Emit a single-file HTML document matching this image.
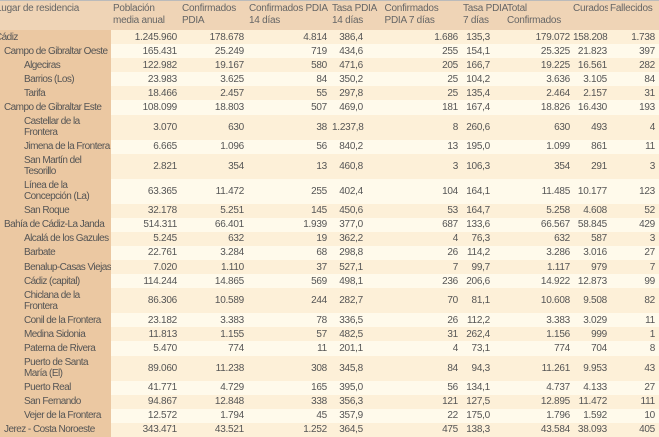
<!DOCTYPE html>
<html><head><meta charset="utf-8"><style>
body{margin:0;width:659px;height:428px;overflow:hidden;background:#fff;}
table{border-collapse:collapse;table-layout:fixed;width:659px;font-family:"Liberation Sans",sans-serif;font-size:10px;letter-spacing:-0.25px;color:#555;}
th{background:#efd4b6;font-weight:normal;text-align:left;vertical-align:top;padding:2px 0 0 2px;height:27px;line-height:12px;color:#666;border-top:1px solid #bbb;white-space:nowrap;overflow:hidden;}
th:nth-child(7){overflow:visible;position:relative;z-index:1}
td{padding:0 3px 0 2px;text-align:right;line-height:11px;height:14.1px;white-space:nowrap;overflow:hidden;}
tr.d td{height:25px;}
td:first-child{text-align:left;padding:0 1px;letter-spacing:-0.55px;}
td:nth-child(5){padding-right:17px}
td:nth-child(7){padding-right:15px}
td:nth-child(8){padding-right:1px}
td:nth-child(9){padding-right:1px}
td:nth-child(10){padding-right:4px}
tr:nth-child(odd) td{background:#fdf0d8;}
tr:nth-child(even) td{background:#fffaeb;}
tr td:first-child{background:#ebc8a2 !important;}
.l0{margin-left:-6px}.l1{margin-left:3px}.l2{margin-left:23px}
</style></head><body>
<table>
<colgroup><col style="width:111px"><col style="width:69px"><col style="width:67px"><col style="width:83px"><col style="width:50px"><col style="width:81px"><col style="width:44px"><col style="width:66px"><col style="width:37px"><col style="width:51px"></colgroup>
<thead><tr><th><span class="l0">Lugar de residencia</span></th><th>Población<br>media anual</th><th>Confirmados<br>PDIA</th><th>Confirmados PDIA<br>14 días</th><th>Tasa PDIA<br>14 días</th><th>&nbsp;Confirmados<br>&nbsp;PDIA 7 días</th><th>Tasa PDIA<br>7 días</th><th>Total<br>Confirmados</th><th>Curados</th><th>Fallecidos</th></tr></thead>
<tbody>
<tr><td><div class="l0">Cádiz</div></td><td>1.245.960</td><td>178.678</td><td>4.814</td><td>386,4</td><td>1.686</td><td>135,3</td><td>179.072</td><td>158.208</td><td>1.738</td></tr>
<tr><td><div class="l1">Campo de Gibraltar Oeste</div></td><td>165.431</td><td>25.249</td><td>719</td><td>434,6</td><td>255</td><td>154,1</td><td>25.325</td><td>21.823</td><td>397</td></tr>
<tr><td><div class="l2">Algeciras</div></td><td>122.982</td><td>19.167</td><td>580</td><td>471,6</td><td>205</td><td>166,7</td><td>19.225</td><td>16.561</td><td>282</td></tr>
<tr><td><div class="l2">Barrios (Los)</div></td><td>23.983</td><td>3.625</td><td>84</td><td>350,2</td><td>25</td><td>104,2</td><td>3.636</td><td>3.105</td><td>84</td></tr>
<tr><td><div class="l2">Tarifa</div></td><td>18.466</td><td>2.457</td><td>55</td><td>297,8</td><td>25</td><td>135,4</td><td>2.464</td><td>2.157</td><td>31</td></tr>
<tr><td><div class="l1">Campo de Gibraltar Este</div></td><td>108.099</td><td>18.803</td><td>507</td><td>469,0</td><td>181</td><td>167,4</td><td>18.826</td><td>16.430</td><td>193</td></tr>
<tr class="d"><td><div class="l2">Castellar de la<br>Frontera</div></td><td>3.070</td><td>630</td><td>38</td><td>1.237,8</td><td>8</td><td>260,6</td><td>630</td><td>493</td><td>4</td></tr>
<tr><td><div class="l2">Jimena de la Frontera</div></td><td>6.665</td><td>1.096</td><td>56</td><td>840,2</td><td>13</td><td>195,0</td><td>1.099</td><td>861</td><td>11</td></tr>
<tr class="d"><td><div class="l2">San Martín del<br>Tesorillo</div></td><td>2.821</td><td>354</td><td>13</td><td>460,8</td><td>3</td><td>106,3</td><td>354</td><td>291</td><td>3</td></tr>
<tr class="d"><td><div class="l2">Línea de la<br>Concepción (La)</div></td><td>63.365</td><td>11.472</td><td>255</td><td>402,4</td><td>104</td><td>164,1</td><td>11.485</td><td>10.177</td><td>123</td></tr>
<tr><td><div class="l2">San Roque</div></td><td>32.178</td><td>5.251</td><td>145</td><td>450,6</td><td>53</td><td>164,7</td><td>5.258</td><td>4.608</td><td>52</td></tr>
<tr><td><div class="l1">Bahía de Cádiz-La Janda</div></td><td>514.311</td><td>66.401</td><td>1.939</td><td>377,0</td><td>687</td><td>133,6</td><td>66.567</td><td>58.845</td><td>429</td></tr>
<tr><td><div class="l2">Alcalá de los Gazules</div></td><td>5.245</td><td>632</td><td>19</td><td>362,2</td><td>4</td><td>76,3</td><td>632</td><td>587</td><td>3</td></tr>
<tr><td><div class="l2">Barbate</div></td><td>22.761</td><td>3.284</td><td>68</td><td>298,8</td><td>26</td><td>114,2</td><td>3.286</td><td>3.016</td><td>27</td></tr>
<tr><td><div class="l2">Benalup-Casas Viejas</div></td><td>7.020</td><td>1.110</td><td>37</td><td>527,1</td><td>7</td><td>99,7</td><td>1.117</td><td>979</td><td>7</td></tr>
<tr><td><div class="l2">Cádiz (capital)</div></td><td>114.244</td><td>14.865</td><td>569</td><td>498,1</td><td>236</td><td>206,6</td><td>14.922</td><td>12.873</td><td>99</td></tr>
<tr class="d"><td><div class="l2">Chiclana de la<br>Frontera</div></td><td>86.306</td><td>10.589</td><td>244</td><td>282,7</td><td>70</td><td>81,1</td><td>10.608</td><td>9.508</td><td>82</td></tr>
<tr><td><div class="l2">Conil de la Frontera</div></td><td>23.182</td><td>3.383</td><td>78</td><td>336,5</td><td>26</td><td>112,2</td><td>3.383</td><td>3.029</td><td>11</td></tr>
<tr><td><div class="l2">Medina Sidonia</div></td><td>11.813</td><td>1.155</td><td>57</td><td>482,5</td><td>31</td><td>262,4</td><td>1.156</td><td>999</td><td>1</td></tr>
<tr><td><div class="l2">Paterna de Rivera</div></td><td>5.470</td><td>774</td><td>11</td><td>201,1</td><td>4</td><td>73,1</td><td>774</td><td>704</td><td>8</td></tr>
<tr class="d"><td><div class="l2">Puerto de Santa<br>María (El)</div></td><td>89.060</td><td>11.238</td><td>308</td><td>345,8</td><td>84</td><td>94,3</td><td>11.261</td><td>9.953</td><td>43</td></tr>
<tr><td><div class="l2">Puerto Real</div></td><td>41.771</td><td>4.729</td><td>165</td><td>395,0</td><td>56</td><td>134,1</td><td>4.737</td><td>4.133</td><td>27</td></tr>
<tr><td><div class="l2">San Fernando</div></td><td>94.867</td><td>12.848</td><td>338</td><td>356,3</td><td>121</td><td>127,5</td><td>12.895</td><td>11.472</td><td>111</td></tr>
<tr><td><div class="l2">Vejer de la Frontera</div></td><td>12.572</td><td>1.794</td><td>45</td><td>357,9</td><td>22</td><td>175,0</td><td>1.796</td><td>1.592</td><td>10</td></tr>
<tr><td><div class="l1">Jerez - Costa Noroeste</div></td><td>343.471</td><td>43.521</td><td>1.252</td><td>364,5</td><td>475</td><td>138,3</td><td>43.584</td><td>38.093</td><td>405</td></tr>
</tbody></table>
</body></html>
